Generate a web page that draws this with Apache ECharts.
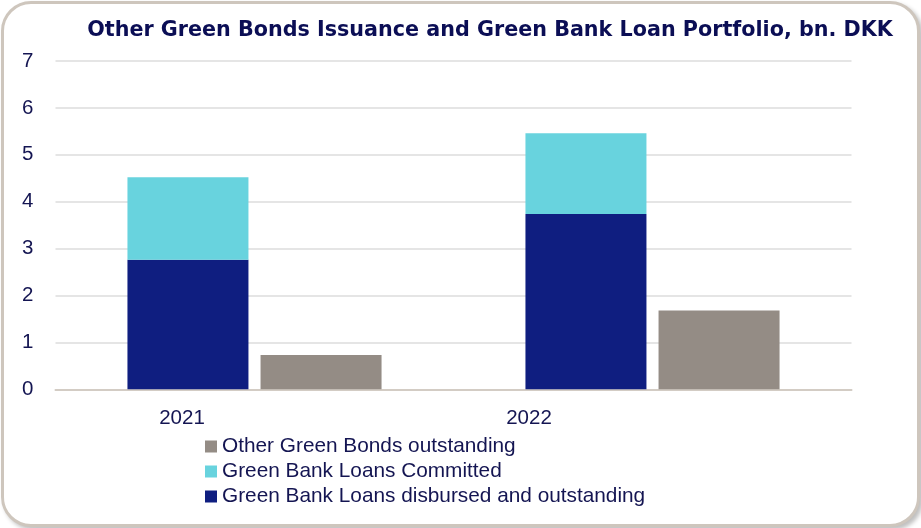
<!DOCTYPE html>
<html>
<head>
<meta charset="utf-8">
<script src="https://cdn.jsdelivr.net/npm/echarts@6/dist/echarts.min.js"></script>
<style>
  html, body { margin: 0; padding: 0; background: #ffffff; }
  #frame { position: absolute; left: 1px; top: 1px; width: 913px; height: 520px; border: 3px solid #CEC6BD; border-radius: 30px; box-shadow: 3px 3px 4px rgba(0,0,0,0.25); background: #fff; }
  #chart { position: absolute; left: 0; top: 0; width: 921px; height: 528px; }
</style>
</head>
<body>
<div id="frame"></div>
<div id="chart"></div>
<script>
const titleText = 'Other Green Bonds Issuance and Green Bank Loan Portfolio, bn. DKK';
const categories = ['2021', '2022'];
const disbursed = [2.76, 3.74];
const committed = [1.76, 1.72];
const otherBonds = [0.73, 1.68];
const seriesNames = ['Green Bank Loans disbursed and outstanding', 'Green Bank Loans Committed', 'Other Green Bonds outstanding'];
const yTicks = [0, 1, 2, 3, 4, 5, 6, 7];
const labelShift = [145, 247];

const textColor = '#141552';
const chart = echarts.init(document.getElementById('chart'), null, { renderer: 'canvas' });
chart.setOption({
  backgroundColor: 'transparent',
  animation: false,
  title: {
    text: titleText,
    left: 485, top: 15, textAlign: 'center',
    textStyle: { fontFamily: 'DejaVu Sans', fontWeight: 'bold', fontSize: 20.7, color: '#0B0E55' }
  },
  grid: { left: 55.5, right: 69.5, top: 61, bottom: 138.7, containLabel: false },
  legend: {
    orient: 'vertical', left: 200, top: 431,
    itemWidth: 12, itemHeight: 12, itemGap: 4,
    icon: 'rect',
    data: [seriesNames[2], seriesNames[1], seriesNames[0]],
    textStyle: { fontFamily: 'Liberation Sans', fontSize: 20.8, color: textColor }
  },
  xAxis: {
    type: 'category',
    data: categories.map((c, i) => ({ value: c, textStyle: { padding: [0, labelShift[i], 0, 0] } })),
    axisLine: { show: true, lineStyle: { color: '#D3CCC4', width: 2 } },
    axisTick: { show: false },
    axisLabel: { fontFamily: 'Liberation Sans', fontSize: 20.5, color: textColor, margin: 19 }
  },
  yAxis: {
    type: 'value', min: yTicks[0], max: yTicks[yTicks.length - 1], interval: 1,
    axisLine: { show: false }, axisTick: { show: false },
    axisLabel: { fontFamily: 'Liberation Sans', fontSize: 20.5, color: textColor, margin: 22 },
    splitLine: { lineStyle: { color: '#DCDCDC', width: 1.5 } }
  },
  series: [
    { name: seriesNames[0], type: 'bar', stack: 'loans', data: disbursed, barWidth: 121, barGap: '10%',
      itemStyle: { color: '#0F1E80' } },
    { name: seriesNames[1], type: 'bar', stack: 'loans', data: committed, barWidth: 121, barGap: '10%',
      itemStyle: { color: '#68D3DE' } },
    { name: seriesNames[2], type: 'bar', data: otherBonds, barWidth: 121, barGap: '10%',
      itemStyle: { color: '#948C85' } }
  ]
});
</script>
</body>
</html>
